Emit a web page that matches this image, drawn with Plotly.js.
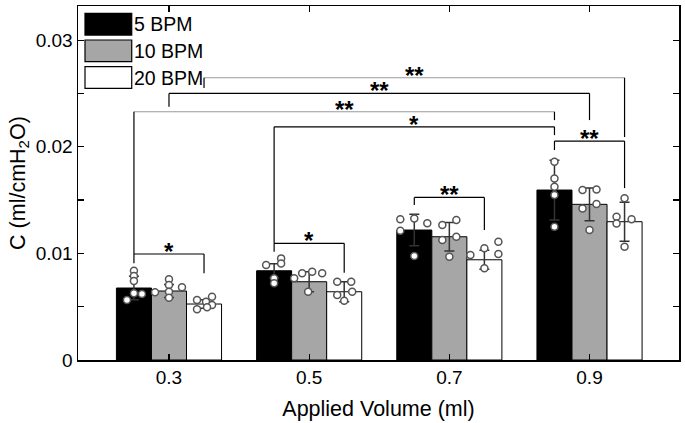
<!DOCTYPE html>
<html>
<head>
<meta charset="utf-8">
<script src="https://cdn.plot.ly/plotly-3.0.1.min.js"></script>
<style>html,body{margin:0;padding:0;background:#fff}#chart{width:685px;height:423px}</style>
</head>
<body>
<div id="chart"></div>
<script>
// ---- data ----
const volumeLabels = ['0.3', '0.5', '0.7', '0.9'];
const volumes = [0.3, 0.5, 0.7, 0.9];
const seriesNames = ['5 BPM', '10 BPM', '20 BPM'];
const yTickVals = [0, 0.01, 0.02, 0.03];
const yTickText = ['0', '0.01', '0.02', '0.03'];

const mean5  = [0.00675, 0.00837, 0.01219, 0.01594];
const mean10 = [0.00647, 0.00734, 0.01156, 0.01460];
const mean20 = [0.00525, 0.00640, 0.00940, 0.01297];

const sd5  = [0.00110, 0.00065, 0.00147, 0.00280];
const sd10 = [0.00060, 0.00094, 0.00133, 0.00153];
const sd20 = [0.00040, 0.00094, 0.00090, 0.00183];

// individual measurements per volume
const pts5 = [
  [0.00837, 0.00787, 0.00741, 0.00625, 0.00562, 0.00619],
  [0.00891, 0.00953, 0.00906, 0.00766, 0.00719],
  [0.01319, 0.01328, 0.01282, 0.01212, 0.00975],
  [0.01859, 0.01703, 0.01625, 0.01547, 0.01250]
];
const pts10 = [
  [0.00635, 0.00757, 0.00703, 0.00640, 0.00584, 0.00682],
  [0.00766, 0.00813, 0.00828, 0.00813, 0.00640],
  [0.01266, 0.01312, 0.01125, 0.01156, 0.00968],
  [0.01594, 0.01600, 0.01422, 0.01462, 0.01219]
];
const pts20 = [
  [0.00562, 0.00475, 0.00547, 0.00593, 0.00516, 0.00494],
  [0.00734, 0.00734, 0.00609, 0.00640, 0.00556],
  [0.00984, 0.01047, 0.01109, 0.00994, 0.00860],
  [0.01516, 0.01343, 0.01281, 0.01319, 0.01062]
];
// horizontal scatter of the dots (in screen-pixel units)
const jit5 = [
  [0, 0, 0, 0, -7, 8],
  [-8, 7, 7, 0, 0],
  [-14, 0, 13, -14, 0],
  [0, 0, 0, 0, 0]
];
const jit10 = [
  [-14, 0, 0, 0, 0, 13],
  [-15, -7, 3, 13, -1],
  [-7, 7, -7, 7, 0],
  [-7, 7, -7, 7, 0]
];
const jit20 = [
  [-7, -7, 2, 8, 8, 3],
  [-7, 7, -7, 8, 0],
  [-14, 0, 14, 14, 0],
  [0, -8, -8, 7, 0]
];

// significance brackets: [volIdx1, series1, volIdx2, series2, lineY, leg1End, leg2End, label]
const brackets = [
  [0, 2, 3, 2, 0.02647, 0.02550, 0.02091, '**'],
  [0, 1, 3, 1, 0.02500, 0.02375, 0.02250, '**'],
  [0, 0, 3, 0, 0.02328, 0.00994, 0.02250, '**'],
  [1, 0, 3, 0, 0.02187, 0.01094, 0.02109, '*'],
  [3, 0, 3, 2, 0.02053, 0.01969, 0.01612, '**'],
  [2, 0, 2, 2, 0.01525, 0.01453, 0.01219, '**'],
  [1, 0, 1, 2, 0.01094, 0.01015, 0.00818, '*'],
  [0, 0, 0, 2, 0.00994, 0.00907, 0.00813, '*']
];
const bracketGray = [true, false, true, false, false, false, false, false];

// ---- styling ----
const FONT = 'Liberation Sans, Arial, Helvetica, sans-serif';
const barColors = ['#000000', '#a6a6a6', '#ffffff'];
const means = [mean5, mean10, mean20];
const sds = [sd5, sd10, sd20];
const pts = [pts5, pts10, pts20];
const jits = [jit5, jit10, jit20];
const BARW = 0.05;           // width of one bar in x units
const PX = 0.2 / 140.2;      // x units per screen pixel

const traces = [];
for (let s = 0; s < 3; s++) {
  traces.push({
    type: 'bar', name: seriesNames[s], x: volumes, y: means[s],
    marker: {color: barColors[s], line: {color: '#000', width: 1}},
    error_y: {type: 'data', array: sds[s], visible: true, color: '#333', thickness: 1.5, width: 5},
    showlegend: false, hoverinfo: 'skip'
  });
}
for (let s = 0; s < 3; s++) {
  const xs = [], ys = [];
  for (let g = 0; g < volumes.length; g++) {
    pts[s][g].forEach((v, i) => {
      xs.push(volumes[g] + (s - 1) * BARW + jits[s][g][i] * PX);
      ys.push(v);
    });
  }
  traces.push({
    type: 'scatter', mode: 'markers', x: xs, y: ys, showlegend: false, hoverinfo: 'skip',
    marker: {symbol: 'circle', size: 7, color: '#fff', line: {color: '#555', width: 1.5}}
  });
}

const shapes = [];
const annotations = [];
brackets.forEach((b, i) => {
  const xa = volumes[b[0]] + (b[1] - 1) * BARW;
  const xb = volumes[b[2]] + (b[3] - 1) * BARW;
  const hc = bracketGray[i] ? '#9a9a9a' : '#000';
  const ln = {xref: 'x', yref: 'y', type: 'line', layer: 'above'};
  shapes.push(Object.assign({}, ln, {x0: xa, x1: xb, y0: b[4], y1: b[4], line: {color: hc, width: 1.2}}));
  shapes.push(Object.assign({}, ln, {x0: xa, x1: xa, y0: b[4], y1: b[5], line: {color: '#000', width: 1.2}}));
  shapes.push(Object.assign({}, ln, {x0: xb, x1: xb, y0: b[4], y1: b[6], line: {color: '#000', width: 1.2}}));
  annotations.push({
    xref: 'x', yref: 'y', x: (xa + xb) / 2, y: b[4], text: '<b>' + b[7] + '</b>', showarrow: false,
    xanchor: 'center', yanchor: 'bottom', yshift: -13,
    font: {family: FONT, size: 24, color: '#000'}
  });
});

// legend (drawn as shapes + text, with large swatches)
const legY = [[0.918, 0.9794], [0.8427, 0.904], [0.7675, 0.8285]];
seriesNames.forEach((nm, s) => {
  shapes.push({xref: 'paper', yref: 'paper', type: 'rect', x0: 0.01165, x1: 0.0894,
    y0: legY[s][0], y1: legY[s][1], fillcolor: barColors[s], line: {color: '#000', width: 1.2}, layer: 'above'});
  annotations.push({xref: 'paper', yref: 'paper', x: 0.0905, y: (legY[s][0] + legY[s][1]) / 2,
    xanchor: 'left', yanchor: 'middle', text: nm, showarrow: false,
    font: {family: FONT, size: 19.5, color: '#000'}});
});

const layout = {
  width: 685, height: 423,
  margin: {l: 78, r: 6, t: 6, b: 63},
  paper_bgcolor: '#fff', plot_bgcolor: '#fff',
  font: {family: FONT, color: '#000', size: 19},
  barmode: 'group', bargap: 0.25, bargroupgap: 0,
  showlegend: false,
  xaxis: {
    range: [0.3 - 91 * PX, 0.9 + 89.5 * PX],
    tickvals: volumes, ticktext: volumeLabels,
    ticks: 'inside', ticklen: 6, tickwidth: 1.2, tickcolor: '#000',
    showline: true, linecolor: '#000', linewidth: 1.5, mirror: 'ticks',
    showgrid: false, zeroline: false,
    tickfont: {family: FONT, size: 19, color: '#000'},
    title: {text: 'Applied Volume (ml)', font: {family: FONT, size: 21.5, color: '#000'}, standoff: 13}
  },
  yaxis: {
    range: [0, 0.0332],
    tickvals: yTickVals, ticktext: yTickText,
    ticks: 'inside', ticklen: 6, tickwidth: 1.2, tickcolor: '#000',
    minor: {tickvals: [0.005, 0.015, 0.025], ticks: 'inside', ticklen: 6, tickwidth: 1.2, tickcolor: '#000', showgrid: false},
    showline: true, linecolor: '#000', linewidth: 1.5, mirror: 'ticks',
    showgrid: false, zeroline: false,
    tickfont: {family: FONT, size: 19, color: '#000'},
    title: {text: 'C (ml/cmH<sub>2</sub>O)', font: {family: FONT, size: 21.5, color: '#000'}, standoff: 4}
  },
  shapes: shapes,
  annotations: annotations
};

Plotly.newPlot('chart', traces, layout, {displayModeBar: false, staticPlot: true});
</script>
</body>
</html>
